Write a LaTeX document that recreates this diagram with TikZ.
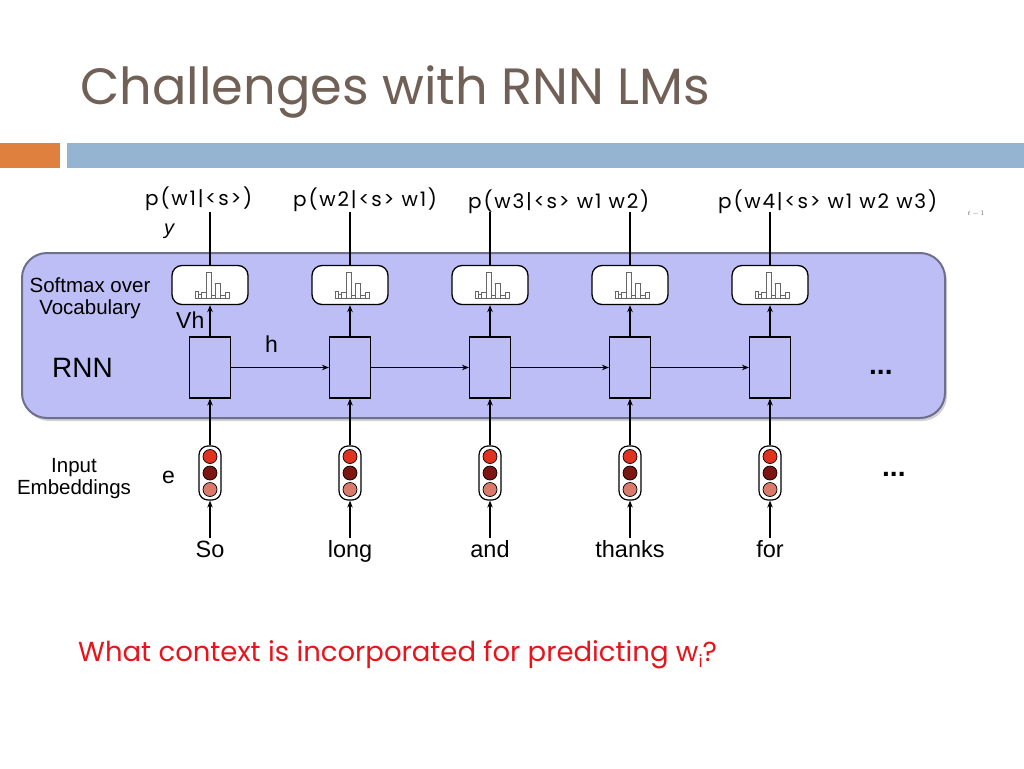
\documentclass[tikz,border=0pt]{standalone}
\usepackage{fontspec}
\setmainfont{Liberation Sans}
\newfontfamily\gothic{Poppins}
\newfontfamily\gothicwide[LetterSpace=9]{Poppins}
\usetikzlibrary{shadows,arrows.meta}
\definecolor{titlecol}{RGB}{112,96,86}
\definecolor{barorange}{RGB}{224,128,63}
\definecolor{barblue}{RGB}{148,180,210}
\definecolor{panelfill}{RGB}{190,190,246}
\definecolor{panelborder}{RGB}{110,110,142}
\definecolor{dotA}{RGB}{224,50,30}
\definecolor{dotB}{RGB}{125,21,18}
\definecolor{dotC}{RGB}{217,122,107}
\definecolor{qred}{RGB}{232,20,28}
\begin{document}
\begin{tikzpicture}[x=1pt,y=-1pt,
  arr/.style={line width=1.3pt,-{Stealth[length=7pt,width=5.5pt]}},
  ln/.style={line width=1.3pt},
  smbox/.style={draw,line width=1.3pt,fill=white,rounded corners=10pt,minimum width=76pt,minimum height=39pt,inner sep=0pt},
  rbox/.style={draw,line width=1.1pt,fill=panelfill,minimum width=41pt,minimum height=61pt,inner sep=0pt},
  lightbox/.style={draw,line width=1.2pt,fill=white,rounded corners=9pt,minimum width=22pt,minimum height=54pt,inner sep=0pt},
  bulb/.style={circle,draw,line width=0.7pt,minimum size=14pt,inner sep=0pt},
  hbar/.style={draw=black!60,line width=0.6pt,fill=white},
  lab/.style={font=\fontsize{20.5}{20.5}\selectfont,inner sep=0pt},
  biglab/.style={font=\fontsize{23}{23}\selectfont,inner sep=0pt},
  toplab/.style={font=\gothicwide\fontsize{20}{20}\selectfont,inner sep=0pt,anchor=base west},
  word/.style={font=\fontsize{23.5}{23.5}\selectfont,inner sep=3pt,text height=16pt,text depth=5pt,anchor=base},
  dots/.style={font=\bfseries\fontsize{28}{28}\selectfont,inner sep=0pt}
]
\useasboundingbox (0,0) rectangle (1024,768);
\fill[white] (0,0) rectangle (1024,768);

% title and bars
\node[anchor=base west,font=\gothic\fontsize{51}{51}\selectfont,text=titlecol,inner sep=0pt] (title) at (80,104) {Challenges with RNN LMs};
\fill[barorange] (0,143) rectangle (60,168);
\fill[barblue] (67,143) rectangle (1024,168);

% panel
\draw[fill=panelfill,draw=panelborder,line width=2pt,rounded corners=25pt,
  drop shadow={shadow xshift=2pt,shadow yshift=-3pt,opacity=0.35}] (22,253) rectangle (945,418);

% columns
\foreach \i/\w in {1/So,2/long,3/and,4/thanks,5/for} {
  \pgfmathsetmacro\cx{70+140*\i}
  \node[smbox] (sm\i) at (\cx,285) {};
  \foreach \a/\b/\h in {-15/-11.7/6.7,-11.7/-8.3/4,-8.3/-3.3/6,-3.3/1.7/26,1.7/5/2.7,5/10/15,10/15/2.7,15/19.3/6}
    \draw[hbar] (\cx+\a,298) rectangle (\cx+\b,298-\h);
  \node[rbox] (r\i) at (\cx,367.5) {};
  \node[lightbox] (e\i) at (\cx,473) {};
  \node[bulb,fill=dotA] (ea\i) at (\cx,456.5) {};
  \node[bulb,fill=dotB] (eb\i) at (\cx,473) {};
  \node[bulb,fill=dotC] (ec\i) at (\cx,489.5) {};
  \coordinate (t\i) at (\cx,212);
  \node[word] (w\i) at (\cx,557) {\w};
  \draw[ln] (sm\i.north) -- (t\i);
  \draw[arr] (r\i.north) -- (sm\i.south);
  \draw[arr] (e\i.north) -- (r\i.south);
  \draw[arr] (w\i.north) -- (e\i.south);
}
\foreach \i/\j in {1/2,2/3,3/4,4/5}
  \draw[arr] (r\i.east) -- (r\j.west);

% top labels
\node[toplab] (p1) at (145,205) {p(w1|<s>)};
\node[toplab] (p2) at (293,206) {p(w2|<s> w1)};
\node[toplab] (p3) at (468,208) {p(w3|<s> w1 w2)};
\node[toplab] (p4) at (718,208) {p(w4|<s> w1 w2 w3)};
\node[font=\fontsize{7}{7}\selectfont,text=black!60,inner sep=0pt] (frag) at (976,214) {$t-1$};

% left labels
\node[lab,anchor=base] (sm) at (90,292) {Softmax over};
\node[lab,anchor=base] (voc) at (90,314) {Vocabulary};
\node[font=\fontsize{28}{28}\selectfont,inner sep=0pt,anchor=base west] (rnn) at (52,377) {RNN};
\node[lab,anchor=base] (inp) at (74,472) {Input};
\node[lab,anchor=base] (emb) at (74,494) {Embeddings};
\node[font=\itshape\fontsize{20}{20}\selectfont,inner sep=0pt,anchor=base west] (ylab) at (164,234) {y};
\node[biglab,anchor=base west] (vh) at (176,328) {Vh};
\node[biglab,anchor=base west] (hlab) at (265,352) {h};
\node[biglab,anchor=base west] (elab) at (162,483) {e};
\node[dots,anchor=base west] (d1) at (869,374) {...};
\node[dots,anchor=base west] (d2) at (882,476) {...};

% question
\node[anchor=base west,font=\gothic\fontsize{27.5}{27.5}\selectfont,text=qred,inner sep=0pt] (q) at (78,661)
  {What context is incorporated for predicting w\raisebox{-6pt}{\fontsize{17}{17}\selectfont i}?};
\end{tikzpicture}
\end{document}
